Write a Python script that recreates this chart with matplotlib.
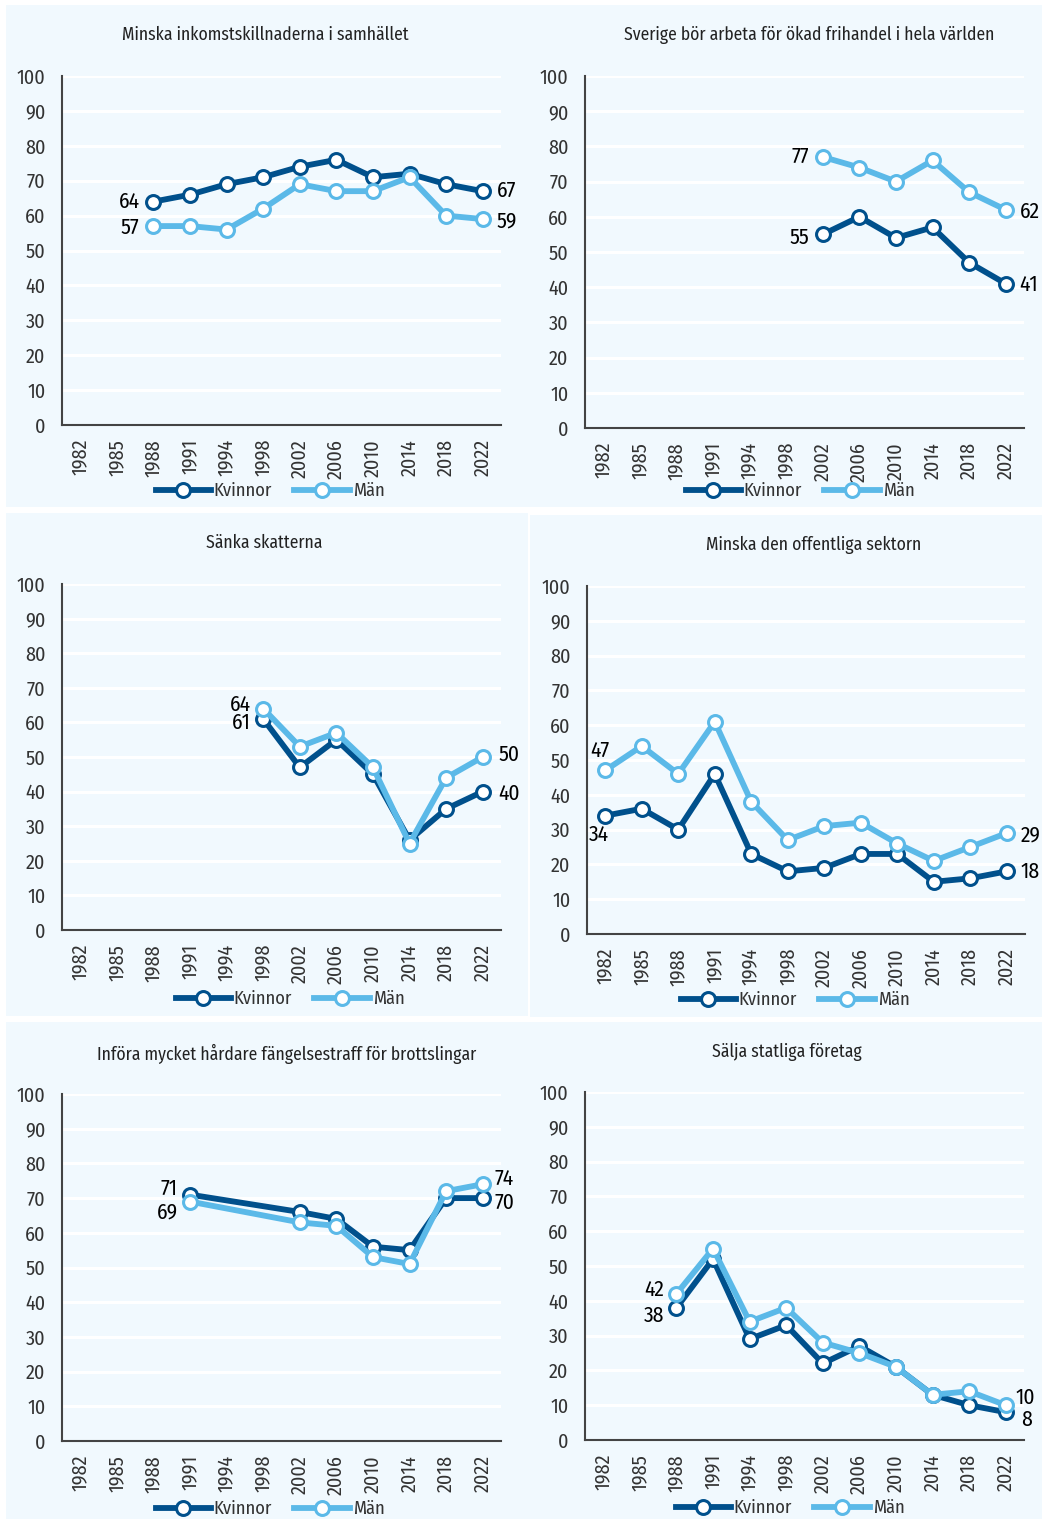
import numpy as np
import matplotlib
matplotlib.use("Agg")
import matplotlib.pyplot as plt
from matplotlib.patches import Rectangle
from matplotlib.lines import Line2D
from matplotlib import font_manager as fm

_avail = {f.name for f in fm.fontManager.ttflist}
_cands = ['Fira Sans Condensed', 'Roboto Condensed', 'Asap Condensed', 'Barlow Semi Condensed', 'Roboto']
FONT = next((c for c in _cands if c in _avail), 'DejaVu Sans')
plt.rcParams['font.family'] = [FONT, 'DejaVu Sans']

years = ['1982', '1985', '1988', '1991', '1994', '1998', '2002', '2006', '2010', '2014', '2018', '2022']
N = np.nan

titles = [
    "Minska inkomstskillnaderna i samhället",
    "Sverige bör arbeta för ökad frihandel i hela världen",
    "Sänka skatterna",
    "Minska den offentliga sektorn",
    "Införa mycket hårdare fängelsestraff för brottslingar",
    "Sälja statliga företag",
]

inkomst_kvinnor = [N, N, 64, 66, 69, 71, 74, 76, 71, 72, 69, 67]
inkomst_man     = [N, N, 57, 57, 56, 62, 69, 67, 67, 71, 60, 59]

frihandel_kvinnor = [N, N, N, N, N, N, 55, 60, 54, 57, 47, 41]
frihandel_man     = [N, N, N, N, N, N, 77, 74, 70, 76, 67, 62]

skatter_kvinnor = [N, N, N, N, N, 61, 47, 55, 45, 26, 35, 40]
skatter_man     = [N, N, N, N, N, 64, 53, 57, 47, 25, 44, 50]

offentlig_kvinnor = [34, 36, 30, 46, 23, 18, 19, 23, 23, 15, 16, 18]
offentlig_man     = [47, 54, 46, 61, 38, 27, 31, 32, 26, 21, 25, 29]

fangelse_kvinnor = [N, N, N, 71, N, N, 66, 64, 56, 55, 70, 70]
fangelse_man     = [N, N, N, 69, N, N, 63, 62, 53, 51, 72, 74]

statliga_kvinnor = [N, N, 38, 52, 29, 33, 22, 27, 21, 13, 10, 8]
statliga_man     = [N, N, 42, 55, 34, 38, 28, 25, 21, 13, 14, 10]

series = [
    (inkomst_kvinnor, inkomst_man),
    (frihandel_kvinnor, frihandel_man),
    (skatter_kvinnor, skatter_man),
    (offentlig_kvinnor, offentlig_man),
    (fangelse_kvinnor, fangelse_man),
    (statliga_kvinnor, statliga_man),
]

# ---- layout / style ----
W, H = 1042, 1519
DARK = '#00508c'
LIGHT = '#5bb9e8'
BG = '#f1f9fe'
TXT = '#333333'

fig = plt.figure(figsize=(W / 100, H / 100), dpi=100)
fig.patch.set_facecolor('white')

def rect_px(x0, y0, x1, y1):
    return [x0 / W, 1 - y1 / H, (x1 - x0) / W, (y1 - y0) / H]

# panel backgrounds (pixels: x0, y0, x1, y1)
bgs = [(6, 5, 1042, 507), (6, 513, 528, 1016), (530, 515, 1042, 1017), (6, 1022, 1042, 1519)]
for x0, y0, x1, y1 in bgs:
    r = rect_px(x0, y0, x1, y1)
    fig.patches.append(Rectangle((r[0], r[1]), r[2], r[3], transform=fig.transFigure,
                                 facecolor=BG, edgecolor='none', zorder=-10))

axes_px = [
    (62, 76, 501, 425),
    (585, 76, 1024, 428),
    (62, 584, 501, 930),
    (587, 586, 1025, 934),
    (62, 1094, 501, 1441),
    (585, 1092, 1024, 1440),
]
title_px = [(265, 35), (809, 35), (264, 543), (814, 545), (287, 1054), (787, 1052)]
legend_px = [(270, 491), (800, 491), (290, 999), (795, 1000), (270, 1509), (790, 1508)]

# labels: (series index 0=K 1=M, point index, ha, dx px, dy px)
labels = [
    [(0, 2, 'right', -14, 0), (1, 2, 'right', -14, -2), (0, 11, 'left', 14, 0), (1, 11, 'left', 14, -2)],
    [(1, 6, 'right', -14, 0), (0, 6, 'right', -14, -3), (1, 11, 'left', 14, -2), (0, 11, 'left', 14, -1)],
    [(1, 5, 'right', -12, 4), (0, 5, 'right', -12, -4), (1, 11, 'left', 16, 2), (0, 11, 'left', 16, -2)],
    [(1, 0, 'center', -5, 20), (0, 0, 'center', -6, -19), (1, 11, 'left', 14, -2), (0, 11, 'left', 14, 0)],
    [(0, 3, 'right', -12, 6), (1, 3, 'right', -12, -11), (1, 11, 'left', 12, 6), (0, 11, 'left', 12, -5)],
    [(1, 2, 'right', -12, 4), (0, 2, 'right', -12, -8), (1, 11, 'left', 10, 7), (0, 11, 'left', 15, -8)],
]

x = np.arange(len(years))
for i, (kv, ma) in enumerate(series):
    ax = fig.add_axes(rect_px(*axes_px[i]))
    ax.set_facecolor('none')
    ax.set_xlim(-0.5, len(years) - 0.5)
    ax.set_ylim(0, 100)
    ax.set_yticks(range(0, 101, 10))
    ax.set_xticks(x)
    ax.set_xticklabels(years, rotation=90)
    ax.tick_params(length=0, labelsize=14.5, labelcolor=TXT)
    ax.tick_params(axis='y', pad=12)
    ax.tick_params(axis='x', pad=10)
    ax.grid(axis='y', color='white', linewidth=2.2, zorder=0)
    ax.set_axisbelow(True)
    for s in ['top', 'right']:
        ax.spines[s].set_visible(False)
    for s in ['left', 'bottom']:
        ax.spines[s].set_color('#444444')
        ax.spines[s].set_linewidth(1.5)

    for vals, col in ((kv, DARK), (ma, LIGHT)):
        v = np.array(vals, dtype=float)
        m = ~np.isnan(v)
        ax.plot(x[m], v[m], color=col, linewidth=4.2, marker='o', markersize=10,
                markerfacecolor='white', markeredgecolor=col, markeredgewidth=2.2,
                zorder=3, clip_on=False)

    for si, pi, ha, dx, dy in labels[i]:
        val = (kv, ma)[si][pi]
        ax.annotate(f"{val:g}", (x[pi], val), xytext=(dx, dy), textcoords='offset pixels',
                    ha=ha, va='center', fontsize=15.5, color='black', zorder=5,
                    annotation_clip=False)

    tx, ty = title_px[i]
    fig.text(tx / W, 1 - ty / H, titles[i], ha='center', va='center', fontsize=12.7,
             color='#222222')

    handles = [Line2D([0], [0], color=DARK, linewidth=4.2, marker='o', markersize=10,
                      markerfacecolor='white', markeredgecolor=DARK, markeredgewidth=2.2),
               Line2D([0], [0], color=LIGHT, linewidth=4.2, marker='o', markersize=10,
                      markerfacecolor='white', markeredgecolor=LIGHT, markeredgewidth=2.2)]
    lx, ly = legend_px[i]
    leg = fig.legend(handles, ['Kvinnor', 'Män'], loc='center', bbox_to_anchor=(lx / W, 1 - ly / H),
                     ncol=2, frameon=False, fontsize=13.3, handlelength=3.0, handletextpad=0.15,
                     columnspacing=1.2, borderpad=0, borderaxespad=0)
    for t in leg.get_texts():
        t.set_color(TXT)

fig.savefig('out.png', dpi=100, facecolor='white')
